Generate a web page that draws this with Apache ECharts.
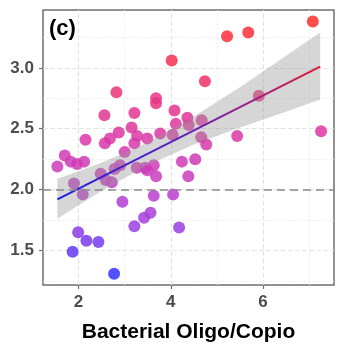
<!DOCTYPE html>
<html><head><meta charset="utf-8">
<script src="https://cdn.jsdelivr.net/npm/echarts@6/dist/echarts.min.js"></script>
<style>html,body{margin:0;padding:0;background:#fff}#c{width:346px;height:348px}</style>
</head><body><div id="c"></div>
<script>
// Data
const oligoCopio = [7.08,5.22,5.68,4.02,4.74,2.82,5.91,3.68,3.68,2.56,3.21,4.08,4.36,4.67,4.11,4.39,3.15,2.87,3.77,4.04,3.49,3.27,2.68,2.15,2.57,3.21,4.66,4.77,5.44,7.26,1.70,3.00,1.83,1.97,2.12,1.54,4.24,4.53,2.90,3.26,3.44,3.49,3.63,3.68,4.38,2.48,2.78,2.59,2.72,1.90,2.09,3.63,4.05,2.95,3.56,3.42,3.21,4.18,1.99,2.17,2.43,1.87,2.77];
const yValues  = [3.38,3.26,3.29,3.06,2.89,2.80,2.77,2.75,2.71,2.61,2.63,2.65,2.59,2.57,2.54,2.53,2.51,2.47,2.46,2.45,2.42,2.44,2.42,2.41,2.38,2.38,2.43,2.37,2.44,2.48,2.28,2.31,2.23,2.21,2.23,2.19,2.23,2.25,2.20,2.18,2.18,2.16,2.20,2.11,2.11,2.13,2.17,2.08,2.06,2.05,1.96,1.95,1.96,1.90,1.81,1.77,1.70,1.69,1.65,1.58,1.57,1.49,1.31];
// fitted line end points and confidence band
const fitX = [1.54, 7.24];
const fitY = [1.92, 3.01];
const bandX = [1.54, 2.5, 3.5, 4.5, 5.5, 6.5, 7.24];
const bandLower = [1.76, 1.99, 2.20, 2.37, 2.51, 2.64, 2.74];
const bandUpper = [2.09, 2.22, 2.39, 2.60, 2.84, 3.10, 3.29];
const refLine = 2.0;
const xTicks = [2, 4, 6];
const xMinor = [1, 3, 5, 7];
const yTicks = [1.5, 2.0, 2.5, 3.0];
const yMinor = [1.25, 1.75, 2.25, 2.75, 3.25];
const panelLabel = '(c)';
const xTitle = 'Bacterial Oligo/Copio';

const FONT = "'Liberation Sans', Arial, sans-serif";
const chart = echarts.init(document.getElementById('c'), null, {renderer: 'canvas'});
const gridLines = [];
xTicks.forEach(v => gridLines.push({xAxis: v, lineStyle: {color: '#e3e3e3', width: 1.2}}));
xMinor.forEach(v => gridLines.push({xAxis: v, lineStyle: {color: '#eeeeee', width: 0.8}}));
yTicks.forEach(v => gridLines.push({yAxis: v, lineStyle: {color: '#e3e3e3', width: 1.2}}));
yMinor.forEach(v => gridLines.push({yAxis: v, lineStyle: {color: '#eeeeee', width: 0.8}}));

const tickFmt1 = v => Number(v).toFixed(1);
chart.setOption({
  animation: false,
  backgroundColor: '#fff',
  title: {text: panelLabel, left: 44, top: 13, textStyle: {fontFamily: FONT, fontSize: 22, fontWeight: 'bold', color: '#000'}},
  grid: {left: 43, right: 12, top: 10, bottom: 61, show: true, borderColor: '#6e6e6e', borderWidth: 1.5},
  xAxis: {
    type: 'value', min: 1.228, max: 7.54,
    axisLine: {show: false},
    splitLine: {show: false},
    axisTick: {show: true, customValues: xTicks, length: 4, lineStyle: {color: '#6e6e6e', width: 1.2}},
    axisLabel: {customValues: xTicks, margin: 9, fontFamily: FONT, fontSize: 17, fontWeight: 'bold', color: '#4d4d4d'},
    name: xTitle, nameLocation: 'middle', nameGap: 37,
    nameTextStyle: {fontFamily: FONT, fontSize: 21, fontWeight: 'bold', color: '#000'}
  },
  yAxis: {
    type: 'value', min: 1.217, max: 3.475,
    axisLine: {show: false},
    splitLine: {show: false},
    axisTick: {show: true, customValues: yTicks, length: 4, lineStyle: {color: '#6e6e6e', width: 1.2}},
    axisLabel: {customValues: yTicks, margin: 9, formatter: tickFmt1, fontFamily: FONT, fontSize: 17, fontWeight: 'bold', color: '#4d4d4d'}
  },
  visualMap: {show: false, type: 'continuous', seriesIndex: 1, dimension: 1, min: 1.31, max: 3.38,
    inRange: {color: ['#3232ff', '#a040e0', '#cc3cbc', '#e0369c', '#f2305e', '#ff2e2e']}},
  series: [
    {type: 'scatter', data: [], z: 0, silent: true,
      markLine: {z: 0, silent: true, symbol: 'none', label: {show: false}, animation: false, data: gridLines}},
    {type: 'scatter', z: 2, symbolSize: 12, itemStyle: {opacity: 0.85},
      data: oligoCopio.map((x, i) => [x, yValues[i]])},
    {type: 'custom', z: 3, silent: true, clip: true,
      data: bandX.map((x, i) => [x, bandLower[i], bandUpper[i]]),
      encode: {x: 0, y: [1, 2]},
      renderItem: (params, api) => {
        if (params.dataIndex !== 0) return null;
        const pts = [];
        for (let i = 0; i < bandX.length; i++) pts.push(api.coord([bandX[i], bandUpper[i]]));
        for (let i = bandX.length - 1; i >= 0; i--) pts.push(api.coord([bandX[i], bandLower[i]]));
        return {type: 'polygon', shape: {points: pts}, style: {fill: 'rgba(153,153,153,0.4)'}};
      }},
    {type: 'line', z: 4, symbol: 'none', silent: true,
      data: fitX.map((x, i) => [x, fitY[i]]),
      lineStyle: {width: 2, color: new echarts.graphic.LinearGradient(0, 0, 1, 0, [
        {offset: 0, color: '#1f1fe0'}, {offset: 0.45, color: '#5a22c0'}, {offset: 0.75, color: '#a01f80'}, {offset: 1, color: '#e01a30'}])},
      markLine: {z: 5, silent: true, symbol: 'none', label: {show: false},
        lineStyle: {color: '#8a8a8a', width: 1.6, type: [8, 5]},
        data: [{yAxis: refLine}]}}
  ]
});
</script></body></html>
